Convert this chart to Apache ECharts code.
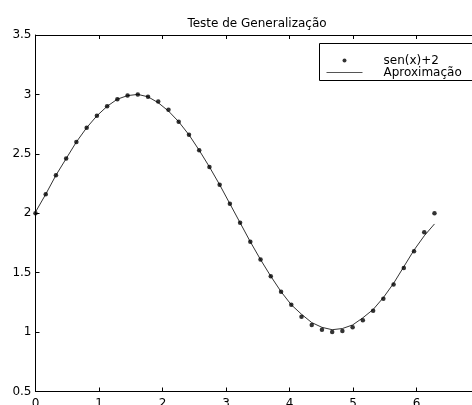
<!DOCTYPE html>
<html>
<head>
<meta charset="utf-8">
<script src="https://cdn.jsdelivr.net/npm/echarts@6/dist/echarts.min.js"></script>
<style>
html,body{margin:0;padding:0;background:#fff;}
#chart{width:472px;height:405px;}
</style>
</head>
<body>
<div id="chart"></div>
<script>
var titleText = 'Teste de Generalização';
var seriesNames = ['sen(x)+2', 'Aproximação'];
var xValues = [0, 0.161, 0.322, 0.483, 0.644, 0.806, 0.967, 1.128, 1.289, 1.450,
  1.611, 1.772, 1.933, 2.094, 2.255, 2.417, 2.578, 2.739, 2.900, 3.061,
  3.222, 3.383, 3.544, 3.705, 3.867, 4.028, 4.189, 4.350, 4.511, 4.672,
  4.833, 4.994, 5.155, 5.317, 5.478, 5.639, 5.800, 5.961, 6.122, 6.283];
var sinValues = [2.00, 2.16, 2.32, 2.46, 2.60, 2.72, 2.82, 2.90, 2.96, 2.99,
  3.00, 2.98, 2.94, 2.87, 2.77, 2.66, 2.53, 2.39, 2.24, 2.08,
  1.92, 1.76, 1.61, 1.47, 1.34, 1.23, 1.13, 1.06, 1.02, 1.00,
  1.01, 1.04, 1.10, 1.18, 1.28, 1.40, 1.54, 1.68, 1.84, 2.00];
var approxValues = [2.01, 2.16, 2.32, 2.46, 2.60, 2.72, 2.82, 2.90, 2.96, 2.99,
  3.00, 2.98, 2.93, 2.86, 2.77, 2.66, 2.53, 2.39, 2.24, 2.08,
  1.92, 1.76, 1.61, 1.47, 1.34, 1.23, 1.15, 1.08, 1.04, 1.02,
  1.03, 1.06, 1.12, 1.19, 1.29, 1.41, 1.55, 1.69, 1.81, 1.91];
var xTicks = {min: 0, max: 7, interval: 1};
var yTicks = {min: 0.5, max: 3.5, interval: 0.5};

function zip(xs, ys) { return xs.map(function (x, i) { return [x, ys[i]]; }); }

var font = 'DejaVu Sans, Liberation Sans, Arial, sans-serif';
var chart = echarts.init(document.getElementById('chart'), null, {renderer: 'canvas'});
var axisCommon = {
  axisLine: {show: true, onZero: false, lineStyle: {color: '#000', width: 1}},
  axisTick: {show: true, inside: true, length: 4, lineStyle: {color: '#000', width: 1}},
  splitLine: {show: false}
};
chart.setOption({
  backgroundColor: '#fff',
  animation: false,
  title: {
    text: titleText, left: 252, top: 13, textAlign: 'center',
    textStyle: {fontFamily: font, fontSize: 12, fontWeight: 'normal', color: '#000'}
  },
  grid: {left: 35.5, right: -8, top: 35, bottom: 13.5, containLabel: false, outerBoundsMode: 'none'},
  legend: {
    orient: 'vertical', left: 326, top: 54.5, itemWidth: 36, itemHeight: 4, itemGap: 0,
    padding: 0, selectedMode: false, z: 60,
    lineStyle: {width: 1, color: '#555'},
    textStyle: {fontFamily: font, fontSize: 12, lineHeight: 12, color: '#000', padding: [0, 0, 0, 16]},
    data: [
      {name: seriesNames[0], icon: 'circle', itemStyle: {color: '#000'}},
      {name: seriesNames[1], itemStyle: {color: 'rgba(0,0,0,0)', borderWidth: 0}}
    ]
  },
  graphic: [{
    type: 'rect', shape: {x: 319.5, y: 43.5, width: 160, height: 37},
    style: {fill: '#fff', stroke: '#000', lineWidth: 1}, z: 50, silent: true
  }],
  xAxis: [
    Object.assign({type: 'value', position: 'bottom', min: xTicks.min, max: xTicks.max, interval: xTicks.interval,
      axisLabel: {fontFamily: font, fontSize: 12, color: '#000', margin: 6,
        formatter: function (v) { return v >= 7 ? '' : String(v); }}}, axisCommon),
    Object.assign({type: 'value', position: 'top', min: xTicks.min, max: xTicks.max, interval: xTicks.interval,
      axisLabel: {show: false}}, axisCommon)
  ],
  yAxis: [
    Object.assign({type: 'value', position: 'left', min: yTicks.min, max: yTicks.max, interval: yTicks.interval,
      axisLabel: {fontFamily: font, fontSize: 12, color: '#000', margin: 4}}, axisCommon),
    Object.assign({type: 'value', position: 'right', min: yTicks.min, max: yTicks.max, interval: yTicks.interval,
      axisLabel: {show: false}}, axisCommon)
  ],
  series: [
    {
      name: seriesNames[1], type: 'line', data: zip(xValues, approxValues),
      symbol: 'none', lineStyle: {color: '#333', width: 1}, itemStyle: {color: '#333'}, z: 2
    },
    {
      name: seriesNames[0], type: 'scatter', data: zip(xValues, sinValues),
      symbol: 'circle', symbolSize: 4.5, itemStyle: {color: '#000'}, z: 3
    }
  ]
});
</script>
</body>
</html>
